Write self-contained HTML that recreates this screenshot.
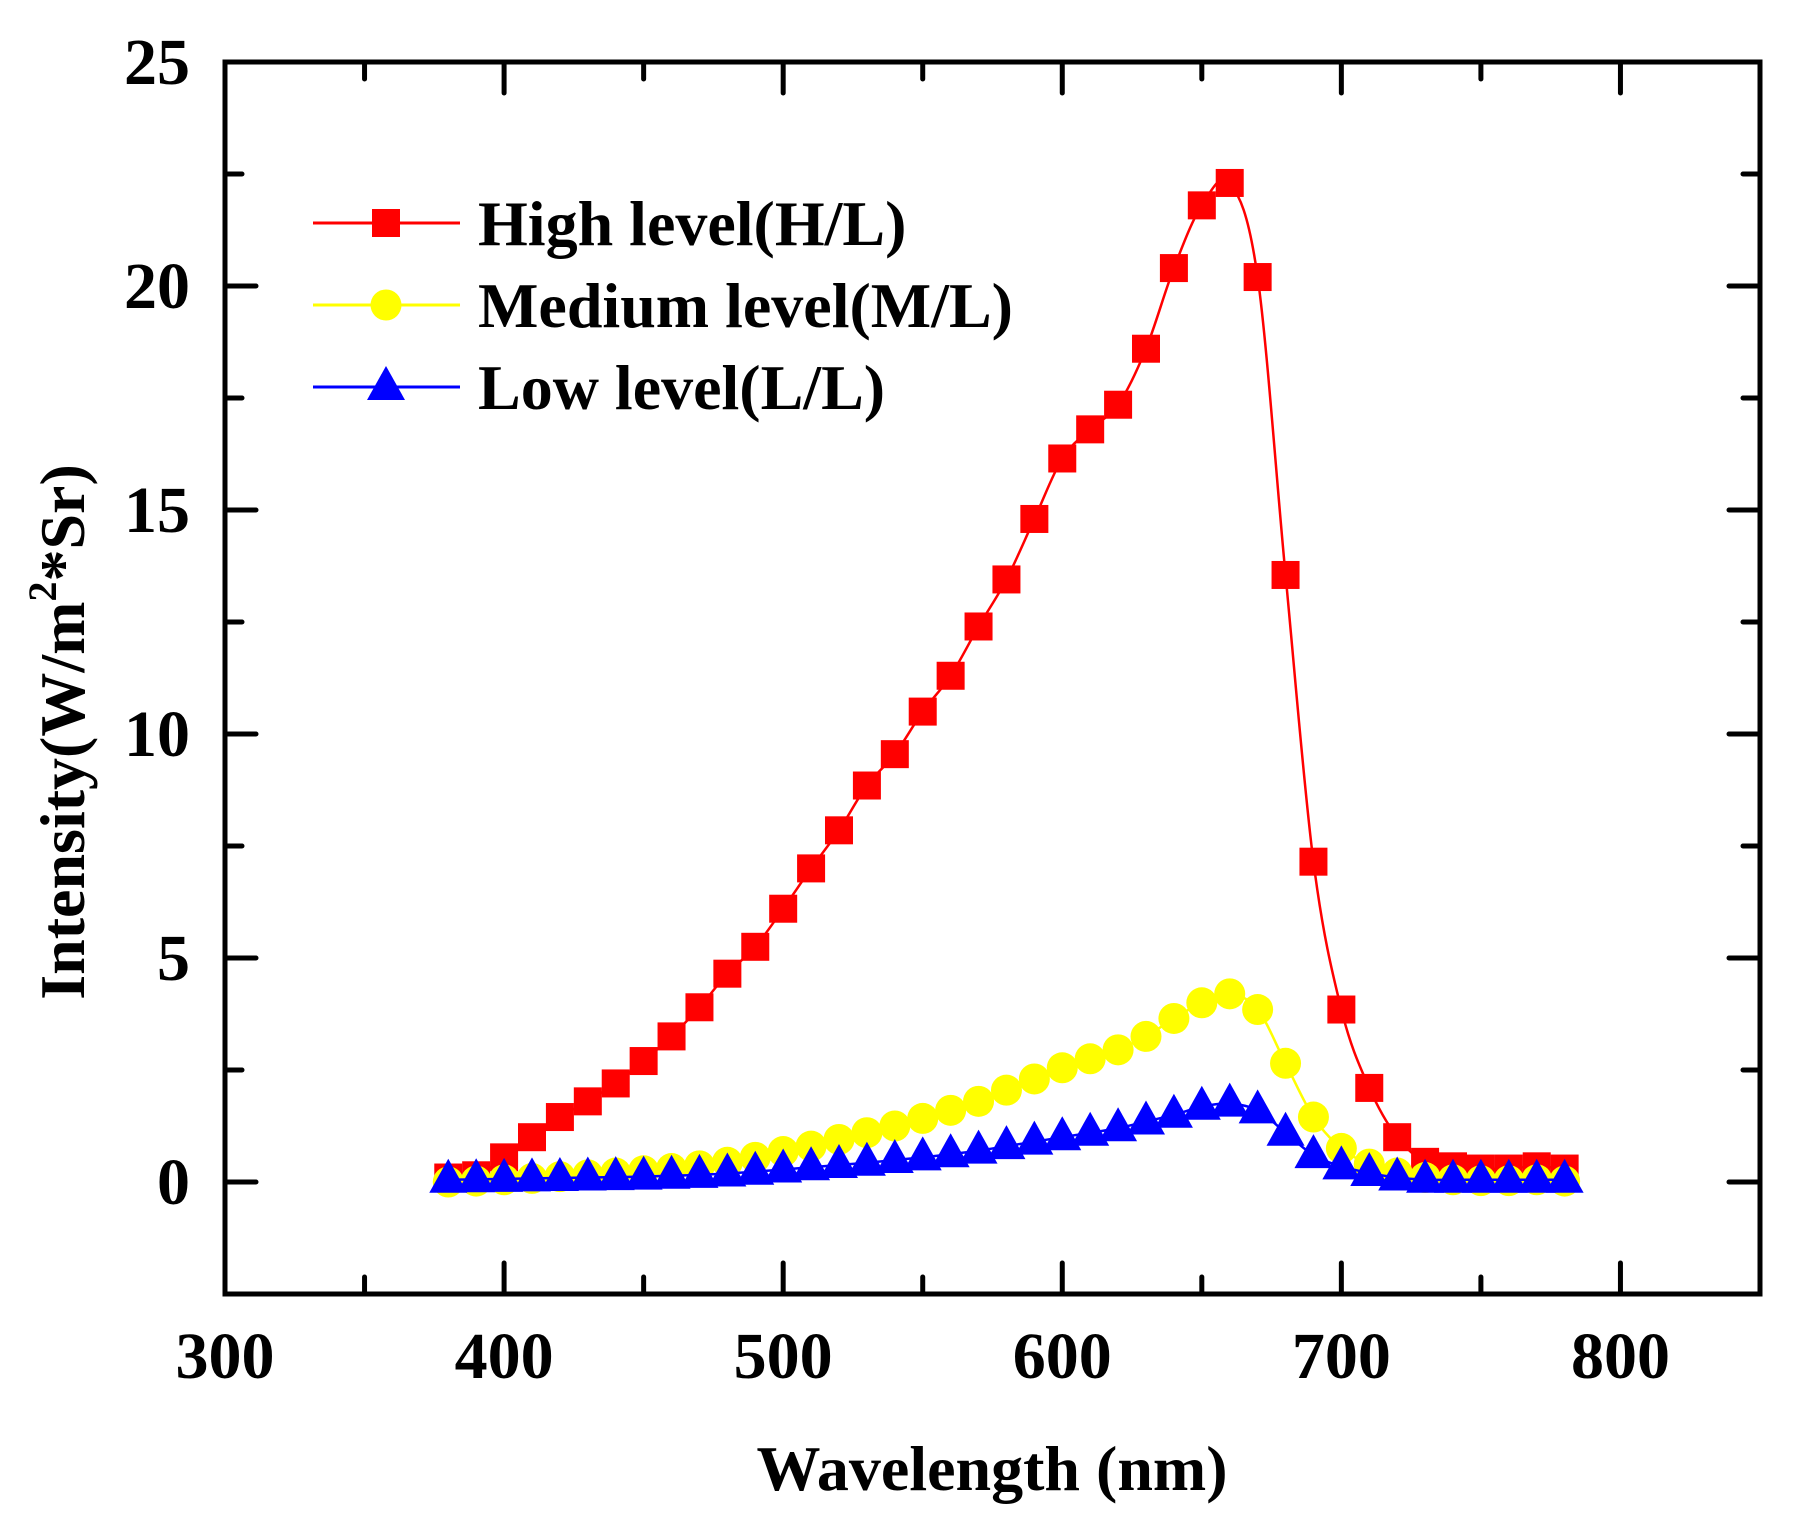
<!DOCTYPE html>
<html><head><meta charset="utf-8"><style>
html,body{margin:0;padding:0;background:#fff;}
svg{display:block;}
text{font-family:"Liberation Serif",serif;font-weight:bold;fill:#000;}
</style></head><body>
<svg id="s" width="1805" height="1522" viewBox="0 0 1805 1522" xmlns="http://www.w3.org/2000/svg"></svg>
<script>
const X=v=>225+(v-300)*2.7909, Y=v=>62+(25-v)*44.8;
const xs=[];for(let w=380;w<=780;w+=10)xs.push(w);
const H=[0.1,0.15,0.55,1.0,1.45,1.8,2.2,2.7,3.25,3.9,4.65,5.25,6.1,7.0,7.85,8.85,9.55,10.5,11.3,12.4,13.45,14.8,16.15,16.8,17.35,18.6,20.4,21.8,22.3,20.2,13.55,7.15,3.85,2.1,1.0,0.45,0.35,0.3,0.3,0.35,0.3];
const M=[0,0.02,0.05,0.08,0.12,0.16,0.2,0.25,0.3,0.36,0.44,0.55,0.68,0.8,0.95,1.1,1.25,1.42,1.6,1.8,2.05,2.3,2.55,2.75,2.95,3.25,3.65,4.0,4.2,3.85,2.65,1.45,0.75,0.4,0.2,0.1,0.05,0.03,0.03,0.05,0.02];
const L=[.05,.06,.07,.08,.09,.1,.11,.12,.14,.16,.19,.23,.28,.33,.38,.43,.49,.55,.62,.7,.8,.9,1.0,1.1,1.2,1.35,1.5,1.68,1.75,1.6,1.1,.6,.35,.2,.1,.05,.05,.05,.05,.05,.05];
let o='';
function path(d){const p=xs.map((w,i)=>[X(w),Y(d[i])]);let s=`M${p[0][0]},${p[0][1]}`;
for(let i=0;i<p.length-1;i++){const p0=p[i-1]||p[i],p1=p[i],p2=p[i+1],p3=p[i+2]||p[i+1];
s+=` C${p1[0]+(p2[0]-p0[0])/6},${p1[1]+(p2[1]-p0[1])/6} ${p2[0]-(p3[0]-p1[0])/6},${p2[1]-(p3[1]-p1[1])/6} ${p2[0]},${p2[1]}`;}return s;}
function mk(t,x,y,c){if(t==0)return `<rect x="${x-14}" y="${y-14}" width="28" height="28" fill="${c}"/>`;
if(t==1)return `<circle cx="${x}" cy="${y}" r="15.5" fill="${c}"/>`;
return `<polygon points="${x},${y-21} ${x-19},${y+13} ${x+19},${y+13}" fill="${c}"/>`;}
[[H,'#ff0000',0],[M,'#ffff00',1],[L,'#0000ff',2]].forEach(([d,c,t])=>{
o+=`<path d="${path(d)}" fill="none" stroke="${c}" stroke-width="2.5"/>`;
xs.forEach((w,i)=>o+=mk(t,X(w),Y(d[i]),c));});
o+=`<rect x="225" y="62" width="1535" height="1232" fill="none" stroke="#000" stroke-width="5"/>`;
for(let v=300;v<=850;v+=50){const x=X(v),len=(v%100==0)?31:17;
if(v>300&&v<850){o+=`<line x1="${x}" y1="1294" x2="${x}" y2="${1294-len}" stroke="#000" stroke-width="5" stroke-linecap="round"/>`;
o+=`<line x1="${x}" y1="62" x2="${x}" y2="${62+len}" stroke="#000" stroke-width="5" stroke-linecap="round"/>`;}
if(v%100==0&&v<=800)o+=`<text x="${x}" y="1378" font-size="66" text-anchor="middle">${v}</text>`;}
for(let v=-2.5;v<=25;v+=2.5){const y=Y(v),len=(v%5==0)?31:17;
if(v>-2.5&&v<25){o+=`<line x1="225" y1="${y}" x2="${225+len}" y2="${y}" stroke="#000" stroke-width="5" stroke-linecap="round"/>`;
o+=`<line x1="1760" y1="${y}" x2="${1760-len}" y2="${y}" stroke="#000" stroke-width="5" stroke-linecap="round"/>`;}
if(v%5==0&&v>=0)o+=`<text x="190" y="${y+22}" font-size="66" text-anchor="end">${v}</text>`;}
o+=`<text x="992" y="1490" font-size="64" text-anchor="middle">Wavelength (nm)</text>`;
o+=`<text transform="translate(84,732) rotate(-90)" font-size="64" text-anchor="middle">Intensity(W/m<tspan font-size="40" dy="-28">2</tspan><tspan dy="28">*Sr)</tspan></text>`;
[['High level(H/L)','#ff0000',0,223],['Medium level(M/L)','#ffff00',1,305],['Low level(L/L)','#0000ff',2,387]].forEach(([t,c,k,y])=>{
o+=`<line x1="313" y1="${y}" x2="460" y2="${y}" stroke="${c}" stroke-width="3"/>`+mk(k,386,y,c);
o+=`<text x="478" y="${y+22}" font-size="64">${t}</text>`;});
document.getElementById('s').innerHTML=o;
</script>
</body></html>
